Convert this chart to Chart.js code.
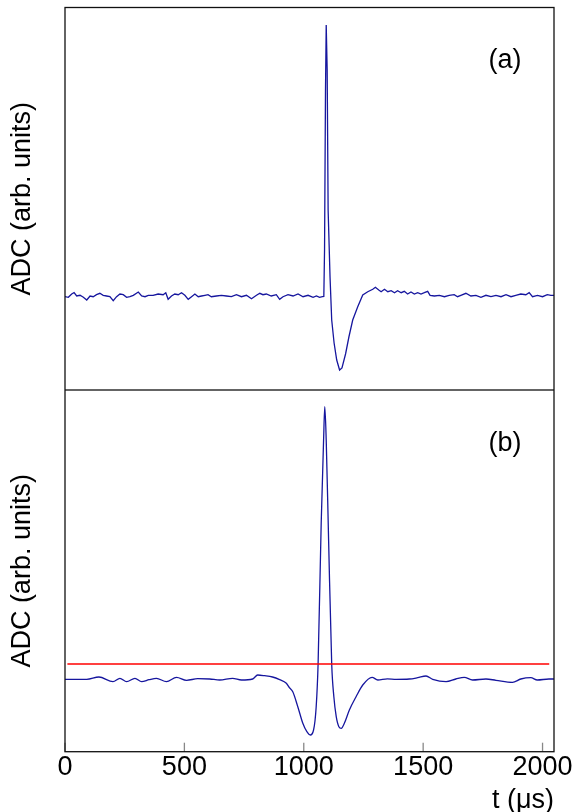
<!DOCTYPE html>
<html>
<head>
<meta charset="utf-8">
<script src="https://cdn.jsdelivr.net/npm/chart.js@4.4.1/dist/chart.umd.min.js"></script>
<style>
  body { margin: 0; background: #fff; overflow: hidden; }
  #wrap { position: relative; width: 574px; height: 812px; overflow: hidden; background: #fff; }
  #boxA { position: absolute; left: 0; top: 0; width: 574px; height: 390px; }
  #boxB { position: absolute; left: 0; top: 390px; width: 574px; height: 430px; }
</style>
</head>
<body>
<div id="wrap">
  <div id="boxA"><canvas id="chartA"></canvas></div>
  <div id="boxB"><canvas id="chartB"></canvas></div>
</div>
<script>
// (a) raw ADC trace: time (us) and amplitude (arb. units)
var tTop = [
  0, 14, 28, 38, 49, 63, 77, 91, 105, 118,
  132, 146, 160, 174, 188, 202, 216, 230, 244, 258,
  272, 286, 307, 321, 335, 349, 369, 390, 411, 422,
  432, 446, 460, 474, 488, 502, 516, 530, 544, 558,
  572, 586, 599, 613, 634, 655, 676, 697, 718, 739,
  760, 781, 802, 816, 829, 843, 864, 885, 899, 913,
  934, 955, 976, 997, 1018, 1039, 1053, 1066, 1078,
  1084, 1087, 1091, 1094, 1098, 1102, 1110, 1117, 1127, 1138,
  1150, 1160, 1175, 1189, 1205, 1226, 1247, 1268, 1289, 1300,
  1314, 1324, 1338, 1352, 1366, 1380, 1393, 1408, 1421, 1435,
  1449, 1463, 1477, 1491, 1505, 1519, 1529, 1547, 1568, 1589,
  1609, 1630, 1644, 1658, 1679, 1700, 1721, 1742, 1763, 1784,
  1805, 1826, 1847, 1868, 1888, 1909, 1930, 1944, 1958, 1979,
  2000, 2020, 2035, 2048
];
var adcTop = [
  93.3, 92.7, 96, 97.3, 94, 94.7, 92.7, 90, 94, 93.3,
  95.3, 96.7, 94.7, 94, 93.3, 89.3, 93.3, 96, 95.3, 92.7,
  93.3, 94.7, 98, 94, 93.3, 94.7, 94.7, 96, 95.3, 97.3,
  90.7, 94, 96, 95.3, 97.3, 94.7, 90.7, 93.3, 96, 93.3,
  94, 94.7, 95.3, 93.3, 94, 94.7, 94, 93.3, 95.3, 93.3,
  94.7, 91.3, 94.7, 96.7, 95.3, 96, 94, 95.3, 90.7, 93.3,
  95.3, 94, 96, 93.3, 94.7, 92.7, 94, 92.7, 93.3,
  93.5, 140, 300, 365, 320, 180, 113, 70, 47, 30,
  20, 22, 36, 53, 70, 83.3, 95, 98.3, 100.7, 102.7,
  100, 98.3, 100.7, 98.3, 99.3, 97.3, 99.3, 97.3, 98.7, 96,
  98, 96, 97.3, 96, 97.3, 98.7, 94.7, 94, 94.7, 93.3,
  94.7, 95.3, 93.3, 94.7, 96.7, 94, 94.7, 92.7, 94.7, 93.3,
  94.7, 93.3, 95.3, 93.3, 94.7, 96, 95.3, 97.3, 93.3, 94.7,
  93.3, 95.3, 94.7, 94.7
];

// (b) filtered trace
var tBot = [
  0, 91, 142, 201, 230, 258, 293, 321, 352, 383,
  425, 467, 509, 556, 606, 648, 702, 739, 786, 807,
  836, 869, 899, 927, 940, 954, 975, 996, 1013, 1027,
  1041, 1052, 1060, 1073, 1083, 1088, 1094, 1104, 1117, 1126,
  1136, 1147, 1157, 1170, 1191, 1219, 1247, 1286, 1310, 1350,
  1387, 1442, 1477, 1512, 1540, 1596, 1637, 1672, 1707, 1763,
  1805, 1874, 1909, 1951, 1978, 2027, 2048
];
var adcBot = [
  72.4, 72.4, 74.7, 70, 73.4, 70, 73.4, 70, 72, 73.4,
  70, 74.4, 71.4, 73, 72.7, 71.7, 73.4, 71.7, 72.7, 76.7,
  76, 74.7, 72, 68.4, 64, 60, 45, 28.4, 20, 16.7,
  21.7, 45, 87.7, 228.7, 311.7, 345, 311.7, 211.7, 87.7, 55,
  35, 25, 23.4, 28.4, 41.7, 55, 66.7, 74.4, 71.7, 72.8,
  72.4, 72.7, 74, 75.7, 72.4, 70, 72.7, 74.4, 71.7, 72.7,
  71.4, 69.4, 72.7, 74, 71.7, 72.7, 72.7
];

// threshold line in (b)
var tThr = [10, 2028];
var adcThr = [87.7, 87.7];

var xTickValues = [0, 500, 1000, 1500, 2000];
var xMax = 2048;
var yMaxTop = 382.5;
var yMaxBot = 361.7;

var FONT = '"Liberation Sans", Arial, Helvetica, sans-serif';
Chart.defaults.font.family = FONT;
Chart.defaults.color = '#000';

function toPoints(xs, ys) {
  return xs.map(function (x, i) { return { x: x, y: ys[i] }; });
}

// frame, inward ticks and panel label
var framePlugin = {
  id: 'frame',
  afterDatasetsDraw: function (chart, args, opts) {
    var a = chart.chartArea, ctx = chart.ctx;
    ctx.save();
    if (opts.ticks) {
      ctx.strokeStyle = '#888';
      ctx.lineWidth = 1.3;
      opts.ticks.forEach(function (v) {
        var px = chart.scales.x.getPixelForValue(v);
        ctx.beginPath();
        ctx.moveTo(px, a.bottom);
        ctx.lineTo(px, a.bottom - 9);
        ctx.stroke();
      });
    }
    ctx.strokeStyle = '#111';
    ctx.lineWidth = 1.3;
    ctx.strokeRect(a.left, a.top, a.right - a.left, a.bottom - a.top);
    if (opts.label) {
      ctx.fillStyle = '#000';
      ctx.font = '27px ' + FONT;
      ctx.textAlign = 'center';
      ctx.textBaseline = 'middle';
      ctx.fillText(opts.label, a.right - 49, a.top + 53.5);
    }
    ctx.restore();
  }
};

var yTitle = {
  display: true,
  text: 'ADC (arb. units)',
  color: '#000',
  font: { size: 27, family: FONT },
  padding: { top: 6.8, bottom: 25.8 }
};

// chart (a)
new Chart(document.getElementById('chartA'), {
  type: 'line',
  data: {
    datasets: [{
      data: toPoints(tTop, adcTop),
      borderColor: '#16169e',
      borderWidth: 1.3,
      pointRadius: 0,
      tension: 0
    }]
  },
  options: {
    responsive: true,
    maintainAspectRatio: false,
    animation: false,
    layout: { padding: { top: 7.5, left: 0, right: 20, bottom: 0 } },
    plugins: {
      legend: { display: false },
      tooltip: { enabled: false },
      frame: { label: '(a)' }
    },
    scales: {
      x: { type: 'linear', min: 0, max: xMax, display: false },
      y: {
        type: 'linear', min: 0, max: yMaxTop,
        ticks: { display: false },
        grid: { display: false, drawTicks: false },
        border: { display: false },
        title: yTitle
      }
    }
  },
  plugins: [framePlugin]
});

// chart (b)
new Chart(document.getElementById('chartB'), {
  type: 'line',
  data: {
    datasets: [{
      data: toPoints(tThr, adcThr),
      borderColor: '#ff0000',
      borderWidth: 1.6,
      pointRadius: 0
    }, {
      data: toPoints(tBot, adcBot),
      borderColor: '#16169e',
      borderWidth: 1.3,
      pointRadius: 0,
      cubicInterpolationMode: 'monotone'
    }]
  },
  options: {
    responsive: true,
    maintainAspectRatio: false,
    animation: false,
    layout: { padding: { top: 0, left: 0, right: 20, bottom: 0 } },
    plugins: {
      legend: { display: false },
      tooltip: { enabled: false },
      frame: { label: '(b)', ticks: xTickValues }
    },
    scales: {
      x: {
        type: 'linear', min: 0, max: xMax,
        afterBuildTicks: function (scale) {
          scale.ticks = xTickValues.map(function (v) { return { value: v }; });
        },
        afterFit: function (scale) {
          // let the end labels overhang so the plot keeps the same width as (a)
          scale.paddingLeft = 0;
          scale.paddingRight = 0;
        },
        ticks: {
          padding: 0,
          maxRotation: 0,
          autoSkip: false,
          color: '#000',
          font: { size: 27, family: FONT },
          callback: function (v) { return String(v); }
        },
        grid: { display: false, drawTicks: false },
        border: { display: false },
        title: {
          display: true,
          text: 't (μs)',
          align: 'end',
          color: '#000',
          font: { size: 27, family: FONT },
          padding: { top: 0.7, bottom: 2.8 }
        }
      },
      y: {
        type: 'linear', min: 0, max: yMaxBot,
        ticks: { display: false },
        grid: { display: false, drawTicks: false },
        border: { display: false },
        title: yTitle
      }
    }
  },
  plugins: [framePlugin]
});
</script>
</body>
</html>
